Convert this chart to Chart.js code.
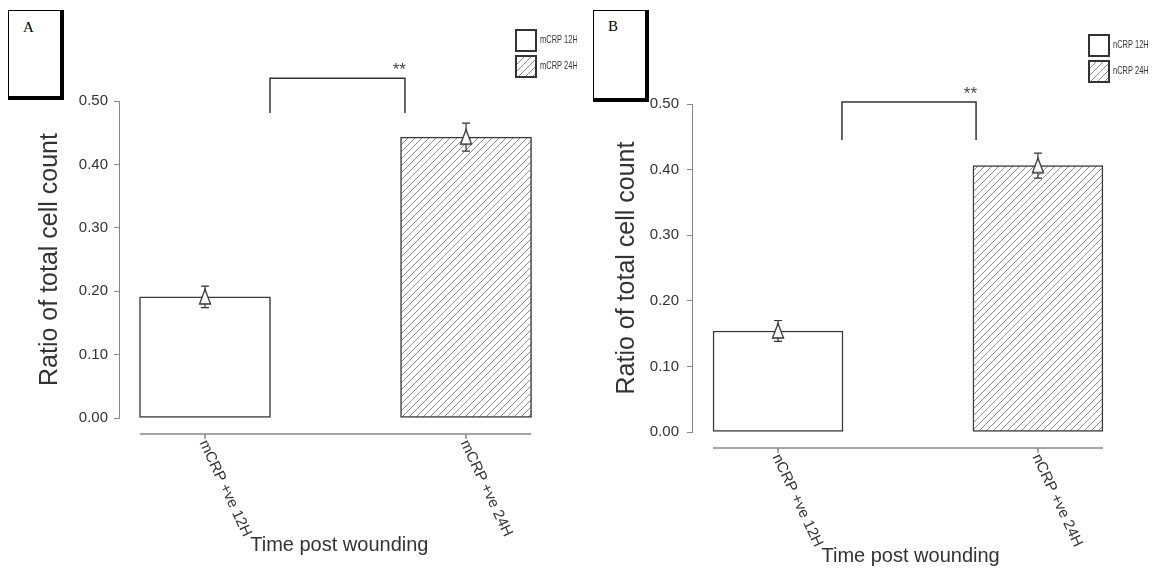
<!DOCTYPE html>
<html lang="en">
<head>
<meta charset="UTF-8">
<title>Ratio of total cell count - mCRP / nCRP</title>
<script src="https://cdn.jsdelivr.net/npm/chart.js"></script>
<style>
  body { margin: 0; background: #fff; width: 1154px; height: 579px; position: relative; overflow: hidden; }
  canvas { position: absolute; top: 0; }
  #chartA { left: 0; }
  #chartB { left: 577px; }
  .tag { position: absolute; top: 10px; box-sizing: border-box; border: 1px solid #000; border-right-width: 4px; border-bottom-width: 4px; background: #fff; font: 15px "Liberation Serif", "Times New Roman", serif; color: #000; padding-left: 14px; }
</style>
</head>
<body>
<canvas id="chartA" width="577" height="579"></canvas>
<canvas id="chartB" width="577" height="579"></canvas>
<div class="tag" style="left:8px;width:56px;height:90px;padding-top:8px">A</div>
<div class="tag" style="left:593px;width:56px;height:92px;padding-top:7px">B</div>

<script>
// panel A - mCRP
const labelsA = ['mCRP +ve 12H', 'mCRP +ve 24H'];
const legendA = ['mCRP 12H', 'mCRP 24H'];
const meansA = [0.191, 0.443];
const errA = [0.017, 0.022];

// panel B - nCRP
const labelsB = ['nCRP +ve 12H', 'nCRP +ve 24H'];
const legendB = ['nCRP 12H', 'nCRP 24H'];
const meansB = [0.154, 0.406];
const errB = [0.016, 0.019];

const yTitle = 'Ratio of total cell count';
const xTitle = 'Time post wounding';
const sigMark = '**';

Chart.defaults.font.family = '"Liberation Sans", Arial, sans-serif';

// diagonal hatching for the 24H bars
function makeHatch() {
    const c = document.createElement('canvas');
    c.width = 7; c.height = 7;
    const g = c.getContext('2d');
    g.fillStyle = '#fff';
    g.fillRect(0, 0, 7, 7);
    g.strokeStyle = '#8c8c8c';
    g.lineWidth = 1;
    g.beginPath();
    g.moveTo(-1, 8); g.lineTo(8, -1);
    g.moveTo(-1, 1); g.lineTo(1, -1);
    g.moveTo(6, 8); g.lineTo(8, 6);
    g.stroke();
    return g.createPattern(c, 'repeat');
}

// open triangle used as the mean marker
function makeTriangle() {
    const c = document.createElement('canvas');
    c.width = 14; c.height = 18;
    const g = c.getContext('2d');
    g.fillStyle = '#fff';
    g.strokeStyle = '#333';
    g.lineWidth = 1.3;
    g.beginPath();
    g.moveTo(7, 1.5); g.lineTo(12.5, 16); g.lineTo(1.5, 16);
    g.closePath();
    g.fill(); g.stroke();
    return c;
}

const hatch = makeHatch();
const triangle = makeTriangle();

// error bars, detached axes, rotated labels, bracket and legend
function makeExtras(spec) {
    return {
        id: 'extras',
        beforeDatasetDraw(chart, args) {
            if (args.meta.type !== 'scatter') return;
            const {ctx, scales: {x, y}} = chart;
            ctx.save();
            ctx.strokeStyle = '#333';
            ctx.lineWidth = 1.2;
            spec.means.forEach((m, i) => {
                const px = x.getPixelForValue(i);
                const hi = y.getPixelForValue(m + spec.errors[i]);
                const lo = y.getPixelForValue(m - spec.errors[i]);
                ctx.beginPath();
                ctx.moveTo(px, hi); ctx.lineTo(px, lo);
                ctx.moveTo(px - 4, hi); ctx.lineTo(px + 4, hi);
                ctx.moveTo(px - 4, lo); ctx.lineTo(px + 4, lo);
                ctx.stroke();
            });
            ctx.restore();
        },
        afterDraw(chart) {
            const {ctx, scales: {x, y}} = chart;
            const axisY = y.getPixelForValue(0) + spec.axisGap;
            ctx.save();

            // x axis line + ticks
            ctx.strokeStyle = '#888';
            ctx.lineWidth = 1.5;
            ctx.beginPath();
            ctx.moveTo(x.getPixelForValue(-0.25), axisY);
            ctx.lineTo(x.getPixelForValue(spec.labels.length - 0.75), axisY);
            spec.labels.forEach((_, i) => {
                const px = x.getPixelForValue(i);
                ctx.moveTo(px, axisY);
                ctx.lineTo(px, axisY + 5);
            });
            ctx.stroke();

            // rotated category labels
            const ang = 65 * Math.PI / 180;
            ctx.fillStyle = '#333';
            ctx.font = '15px "Liberation Sans", Arial, sans-serif';
            ctx.textAlign = 'left';
            ctx.textBaseline = 'middle';
            let end = null;
            spec.labels.forEach((lab, i) => {
                const sx = x.getPixelForValue(i) - 2;
                const sy = axisY + 7;
                const w = ctx.measureText(lab).width;
                ctx.save();
                ctx.translate(sx, sy);
                ctx.rotate(ang);
                ctx.fillText(lab, 0, 0);
                ctx.restore();
                if (i === 0) end = {x: sx + Math.cos(ang) * w, y: sy + Math.sin(ang) * w};
            });

            // x title sits right after the first label
            ctx.font = '20px "Liberation Sans", Arial, sans-serif';
            ctx.fillText(xTitle, end.x + 3, end.y + 10);

            // significance bracket
            const b = spec.bracket;
            const bx0 = x.getPixelForValue(b.x0), bx1 = x.getPixelForValue(b.x1);
            const by = y.getPixelForValue(b.top), bl = y.getPixelForValue(b.leg);
            ctx.strokeStyle = '#333';
            ctx.lineWidth = 1.5;
            ctx.beginPath();
            ctx.moveTo(bx0, bl); ctx.lineTo(bx0, by); ctx.lineTo(bx1, by); ctx.lineTo(bx1, bl);
            ctx.stroke();
            ctx.fillStyle = '#444';
            ctx.font = '17px "Liberation Sans", Arial, sans-serif';
            ctx.textAlign = 'right';
            ctx.textBaseline = 'alphabetic';
            ctx.fillText(sigMark, bx1 + 1, by - 3);

            // legend (narrow text, squeezed horizontally)
            const lg = spec.legendPos;
            chart.data.datasets.slice(0, 2).forEach((ds, i) => {
                const top = lg.y + i * 26;
                ctx.fillStyle = ds.backgroundColor;
                ctx.fillRect(lg.x, top, 20, 21);
                ctx.strokeStyle = '#333';
                ctx.lineWidth = 2;
                ctx.strokeRect(lg.x, top, 20, 21);
                ctx.save();
                ctx.translate(lg.x + 24, top + 10);
                ctx.scale(0.68, 1);
                ctx.fillStyle = '#333';
                ctx.font = '11px "Liberation Sans", Arial, sans-serif';
                ctx.textAlign = 'left';
                ctx.textBaseline = 'middle';
                ctx.fillText(ds.label, 0, 0);
                ctx.restore();
            });
            ctx.restore();
        }
    };
}

function buildChart(id, spec) {
    return new Chart(document.getElementById(id), {
        type: 'bar',
        data: {
            datasets: [
                {
                    label: spec.legend[0],
                    data: [{x: 0, y: spec.means[0]}],
                    backgroundColor: '#fff',
                    borderColor: '#3a3a3a',
                    borderWidth: 1.5,
                    borderSkipped: false,
                    barThickness: spec.barWidth,
                    grouped: false,
                    order: 2
                },
                {
                    label: spec.legend[1],
                    data: [{x: 1, y: spec.means[1]}],
                    backgroundColor: hatch,
                    borderColor: '#3a3a3a',
                    borderWidth: 1.5,
                    borderSkipped: false,
                    barThickness: spec.barWidth,
                    grouped: false,
                    order: 1
                },
                {
                    type: 'scatter',
                    label: 'mean',
                    data: spec.means.map((m, i) => ({x: i, y: m})),
                    pointStyle: triangle,
                    showLine: false,
                    order: 0
                }
            ]
        },
        options: {
            responsive: false,
            animation: false,
            events: [],
            layout: { padding: spec.padding },
            plugins: {
                legend: { display: false },
                tooltip: { enabled: false }
            },
            scales: {
                x: {
                    type: 'linear',
                    display: false,
                    offset: false,
                    bounds: 'data',
                    min: spec.xMin,
                    max: spec.xMax,
                    ticks: { stepSize: 1 }
                },
                y: {
                    min: 0,
                    max: 0.5,
                    ticks: {
                        stepSize: 0.1,
                        callback: v => v.toFixed(2),
                        color: '#333',
                        font: { size: 15 },
                        padding: spec.tickPad
                    },
                    grid: { display: true, drawOnChartArea: false, drawTicks: true, tickLength: 5, color: '#888' },
                    border: { display: true, color: '#888', width: 1 },
                    title: {
                        display: true,
                        text: yTitle,
                        color: '#333',
                        font: { size: 25 },
                        padding: { top: 35, bottom: 0 }
                    },
                    afterFit: s => { s.width = spec.axisLeft; }
                }
            }
        },
        plugins: [makeExtras(spec)]
    });
}

buildChart('chartA', {
    labels: labelsA, legend: legendA, means: meansA, errors: errA,
    axisLeft: 119,
    tickPad: 6,
    padding: { top: 101, bottom: 161, left: 0, right: 17 },
    xMin: -0.3295, xMax: 1.36,
    barWidth: 131,
    axisGap: 16,
    bracket: { x0: 0.249, x1: 0.766, top: 0.536, leg: 0.481 },
    legendPos: { x: 516, y: 30 }
});

buildChart('chartB', {
    labels: labelsB, legend: legendB, means: meansB, errors: errB,
    axisLeft: 115,
    tickPad: 8,
    padding: { top: 104, bottom: 147, left: 0, right: 29 },
    xMin: -0.331, xMax: 1.335,
    barWidth: 130,
    axisGap: 16,
    bracket: { x0: 0.246, x1: 0.762, top: 0.503, leg: 0.445 },
    legendPos: { x: 512, y: 35 }
});
</script>
</body>
</html>
